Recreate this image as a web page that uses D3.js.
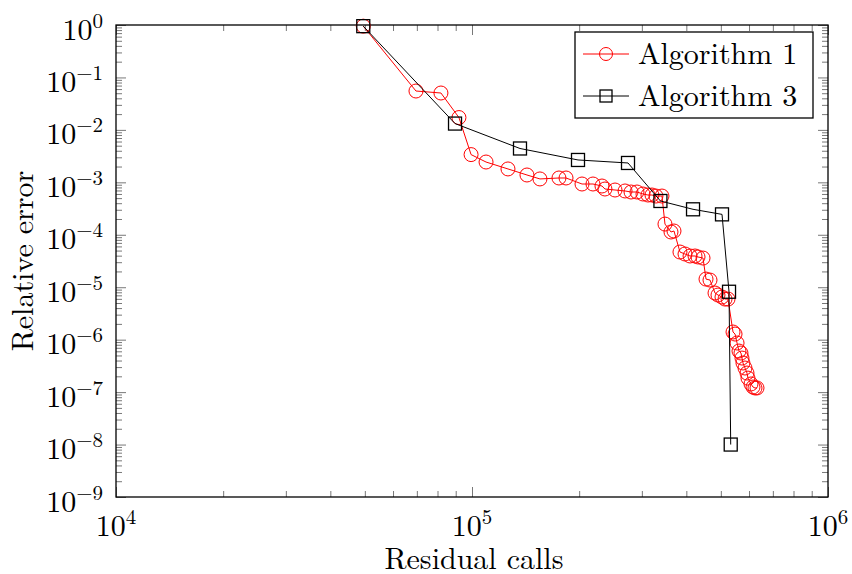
<!DOCTYPE html>
<html>
<head>
<meta charset="utf-8">
<script src="https://cdn.jsdelivr.net/npm/d3@7"></script>
<style>
body { margin: 0; background: #fff; }
</style>
</head>
<body>
<script>
// Algorithm 1 (red circles)
var alg1Calls = [49500, 69600, 81800, 91900, 99400, 109500, 126200, 142700, 155200, 175500, 183700,
  203700, 218700, 231800, 236300, 252200, 269100, 279700, 290700, 302200, 312100, 320300, 328700, 341700,
  348400, 362200, 369300, 383900, 396600, 409700, 423100, 431400, 445600, 454300, 466200, 481500, 490900,
  503800, 513700, 523800, 541000, 548100, 555300, 562300, 569600, 573300, 577000, 584600, 592200, 596000,
  607700, 615600, 623600, 631800];
var alg1Err = [0.95, 0.0551, 0.0505, 0.0172, 0.00338, 0.00244, 0.00180, 0.00138, 0.00116, 0.00121, 0.00121,
  0.000929, 0.000929, 0.000851, 0.000746, 0.000714, 0.000684, 0.000654, 0.000654, 0.000599, 0.000573, 0.000573,
  0.000548, 0.000548,
  0.000160, 0.000113, 0.000118, 4.69e-5, 4.30e-5, 3.94e-5, 3.94e-5, 3.77e-5, 3.60e-5, 1.43e-5, 1.37e-5,
  7.75e-6, 7.10e-6, 6.50e-6, 5.95e-6, 5.95e-6, 1.40e-6, 1.28e-6, 8.63e-7, 6.07e-7, 5.56e-7, 4.46e-7,
  3.59e-7, 2.88e-7, 2.31e-7, 1.85e-7, 1.43e-7, 1.25e-7, 1.20e-7, 1.20e-7];

// Algorithm 3 (black squares)
var alg3Calls = [49500, 89600, 136400, 198500, 274300, 338300, 417700, 503800, 527200, 533000];
var alg3Err = [0.95, 0.0132, 0.00442, 0.00267, 0.00234, 0.000441, 0.000306, 0.000245, 8.2e-6, 1.0e-8];

var xMajor = [4, 5, 6];
var yMajor = [0, -1, -2, -3, -4, -5, -6, -7, -8, -9];
var seriesNames = ["Algorithm 1", "Algorithm 3"];

var W = 852, H = 574;
var L = 116, R = 828, T = 25, B = 497;
var FONT = "'Latin Modern Roman', 'Liberation Serif', serif";

var svg = d3.select("body").append("svg").attr("width", W).attr("height", H);

var x = d3.scaleLog().domain([1e4, 1e6]).range([L, R]);
var y = d3.scaleLog().domain([1e-9, 1]).range([B, T]);

function minors(lo, hi) {
  var out = [];
  for (var e = lo; e < hi; e++)
    for (var k = 2; k <= 9; k++) out.push(k * Math.pow(10, e));
  return out;
}
var xMin = minors(4, 6), yMin = minors(-9, 0);
var xMaj = xMajor.map(function (e) { return Math.pow(10, e); });
var yMaj = yMajor.map(function (e) { return Math.pow(10, e); });

function drawAxis(axis, tx, ty) {
  var g = svg.append("g").attr("transform", "translate(" + tx + "," + ty + ")").call(axis);
  g.select(".domain").remove();
  g.selectAll("text").remove();
  g.selectAll("line").attr("stroke", "#555").attr("stroke-width", 0.8);
}
// inward ticks on all four sides
drawAxis(d3.axisBottom(x).tickValues(xMaj).tickSize(-10), 0, B);
drawAxis(d3.axisBottom(x).tickValues(xMin).tickSize(-6), 0, B);
drawAxis(d3.axisTop(x).tickValues(xMaj).tickSize(-10), 0, T);
drawAxis(d3.axisTop(x).tickValues(xMin).tickSize(-6), 0, T);
drawAxis(d3.axisLeft(y).tickValues(yMaj).tickSize(-10), L, 0);
drawAxis(d3.axisLeft(y).tickValues(yMin).tickSize(-6), L, 0);
drawAxis(d3.axisRight(y).tickValues(yMaj).tickSize(-10), R, 0);
drawAxis(d3.axisRight(y).tickValues(yMin).tickSize(-6), R, 0);

svg.append("rect").attr("x", L).attr("y", T).attr("width", R - L).attr("height", B - T)
  .attr("fill", "none").attr("stroke", "#000").attr("stroke-width", 1.3);

function txt(sel) {
  return sel.append("text").style("font-family", FONT).attr("fill", "#000");
}

// tick labels
xMajor.forEach(function (e) {
  var t = txt(svg).attr("x", x(Math.pow(10, e))).attr("y", B + 39)
    .attr("text-anchor", "middle").style("font-size", "30px");
  t.append("tspan").text("10");
  t.append("tspan").attr("dy", -12).style("font-size", "21px").text(e);
});
yMajor.forEach(function (e) {
  var t = txt(svg).attr("x", L - 13).attr("y", y(Math.pow(10, e)) + 14.5)
    .attr("text-anchor", "end").style("font-size", "30px");
  t.append("tspan").text("10");
  t.append("tspan").attr("dy", -12).style("font-size", "21px").text(e === 0 ? "0" : "\u2212" + (-e));
});

txt(svg).attr("x", 474).attr("y", 569).attr("text-anchor", "middle")
  .style("font-size", "30px").text("Residual calls");
txt(svg).attr("transform", "translate(33,261) rotate(-90)")
  .attr("text-anchor", "middle").style("font-size", "30px").text("Relative error");

// series
var a1 = alg1Calls.map(function (c, i) { return [c, alg1Err[i]]; });
var a3 = alg3Calls.map(function (c, i) { return [c, alg3Err[i]]; });
var line = d3.line().x(function (d) { return x(d[0]); }).y(function (d) { return y(d[1]); });

var plot = svg.append("g");
plot.append("path").attr("d", line(a1)).attr("fill", "none").attr("stroke", "red").attr("stroke-width", 1);
plot.selectAll("circle.a1").data(a1).enter().append("circle").attr("class", "a1")
  .attr("cx", function (d) { return x(d[0]); }).attr("cy", function (d) { return y(d[1]); })
  .attr("r", 7).attr("fill", "none").attr("stroke", "red").attr("stroke-width", 1);

plot.append("path").attr("d", line(a3)).attr("fill", "none").attr("stroke", "#000").attr("stroke-width", 1);
plot.selectAll("rect.a3").data(a3).enter().append("rect").attr("class", "a3")
  .attr("x", function (d) { return x(d[0]) - 6.5; }).attr("y", function (d) { return y(d[1]) - 6.5; })
  .attr("width", 13).attr("height", 13).attr("fill", "none").attr("stroke", "#000").attr("stroke-width", 1.3);

// legend
var lg = svg.append("g");
lg.append("rect").attr("x", 575).attr("y", 32).attr("width", 238).attr("height", 86)
  .attr("fill", "#fff").attr("stroke", "#000").attr("stroke-width", 1.3);
var colors = ["red", "#000"];
seriesNames.forEach(function (name, i) {
  var cy = 54 + i * 42;
  lg.append("line").attr("x1", 583).attr("x2", 629).attr("y1", cy).attr("y2", cy)
    .attr("stroke", colors[i]).attr("stroke-width", 1);
  if (i === 0) {
    lg.append("circle").attr("cx", 606).attr("cy", cy).attr("r", 6.5)
      .attr("fill", "none").attr("stroke", "red").attr("stroke-width", 1);
  } else {
    lg.append("rect").attr("x", 600).attr("y", cy - 6).attr("width", 12).attr("height", 12)
      .attr("fill", "none").attr("stroke", "#000").attr("stroke-width", 1.3);
  }
  txt(lg).attr("x", 638).attr("y", cy + 10).style("font-size", "30px").text(name);
});
</script>
</body>
</html>
